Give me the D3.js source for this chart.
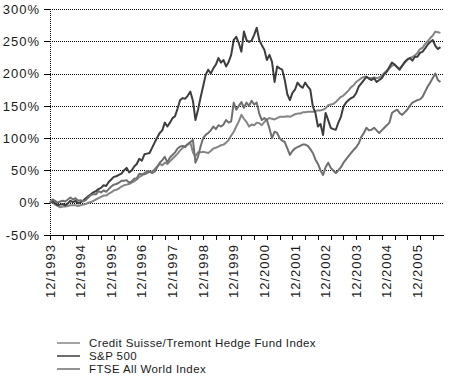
<!DOCTYPE html>
<html>
<head>
<meta charset="utf-8">
<script src="https://cdn.jsdelivr.net/npm/d3@7"></script>
<style>
  html, body { margin: 0; padding: 0; background: #fff; }
  svg { display: block; font-family: "Liberation Sans", Arial, sans-serif; }
  .axis-label { font-size: 13px; letter-spacing: 1px; fill: #1a1a1a; }
  .legend-label { font-size: 11.5px; letter-spacing: 0.4px; fill: #1a1a1a; }
</style>
</head>
<body>
<svg id="chart" width="450" height="384"></svg>
<script>
// monthly values, % change since 12/1993 (index 0 = 12/1993, last = 9/2006)
const xLabels = ["12/1993", "12/1994", "12/1995", "12/1996", "12/1997", "12/1998", "12/1999",
  "12/2000", "12/2001", "12/2002", "12/2003", "12/2004", "12/2005"];
const yTicks = [-50, 0, 50, 100, 150, 200, 250, 300];

const hedgeFund = [
  0, 1, -3, -5, -7, -6, -6, -5, -4, -4, -4, -5, -4,
  -3, -2, 0, 1, 3, 5, 7, 9, 11, 11, 14, 16,
  19, 20, 22, 25, 27, 28, 29, 31, 33, 36, 40, 42,
  46, 49, 48, 48, 52, 56, 60, 58, 62, 60, 64, 68,
  72, 76, 81, 85, 88, 90, 93, 78, 72, 78, 78, 79,
  78, 77, 80, 84, 85, 87, 89, 90, 93, 97, 104, 110,
  118, 126, 136, 130, 125, 118, 121, 120, 124, 123, 120, 125,
  129, 131, 130, 129, 131, 133, 133, 133, 134, 133, 135, 137,
  138, 138, 140, 140, 141, 141, 141, 142, 143, 143, 144, 146,
  151, 152, 153, 156, 160, 164, 166, 170, 174, 179, 182, 187,
  190, 193, 195, 195, 193, 193, 194, 193, 194, 197, 201, 205,
  208, 212, 214, 210, 208, 212, 217, 221, 224, 226, 228, 232,
  238, 240, 246, 250, 255, 259, 265, 264, 263
];

const sp500 = [
  0, 3, -1, -4, -3, -2, -4, -1, 3, 1, 3, -1, 1,
  3, 7, 10, 13, 16, 18, 21, 23, 27, 26, 32, 36,
  40, 41, 43, 45, 50, 54, 47, 50, 56, 60, 68, 65,
  75, 76, 77, 85, 93, 101, 108, 112, 124, 118, 124, 131,
  134, 146, 159, 162, 161, 166, 172, 158, 128, 144, 163, 180,
  198, 206, 200, 208, 214, 224, 217, 221, 211, 218, 229, 252,
  257, 247, 234, 265, 252, 249, 251, 260, 271, 252, 244, 237,
  221, 229, 218, 187, 211, 208, 206, 190, 168, 159, 170, 175,
  186, 181, 178, 186, 180, 175, 149, 139, 118, 122, 105, 139,
  128, 116, 114, 113, 124, 133, 149, 155, 159, 162, 164, 170,
  180, 185, 190, 195, 192, 190, 193, 187, 190, 193, 199, 203,
  210, 217, 214, 210, 206, 212, 218, 222, 224, 220, 226, 226,
  232, 234, 239, 245, 249, 252, 243, 238, 241
];

const ftseWorld = [
  0, 5, 3, 0, 2, 3, 2, 5, 8, 5, 7, 3, 4,
  2, 4, 8, 12, 13, 13, 18, 16, 19, 17, 21, 25,
  28, 29, 31, 34, 34, 35, 31, 33, 37, 38, 45, 44,
  44, 46, 48, 46, 48, 55, 62, 66, 71, 62, 70, 74,
  78, 84, 87, 88, 86, 91, 94, 97, 62, 71, 87, 100,
  105, 108, 112, 118, 114, 120, 118, 121, 128, 124, 126, 155,
  144, 150, 156, 147, 155, 150, 158, 152, 155, 138, 128, 131,
  128, 115, 100, 110, 108, 100, 96, 94, 84, 74, 80, 84,
  86, 88, 90, 90, 88, 83, 77, 67, 60, 50, 43, 55,
  62, 54, 50, 46, 50, 55, 62, 67, 72, 77, 82, 86,
  92, 102, 108, 116, 112, 113, 116, 112, 108, 112, 116, 120,
  124, 139, 142, 144, 139, 136, 140, 144, 150, 155, 157, 159,
  160, 164, 172, 180, 186, 193, 200, 190, 187
];

const seriesNames = ["Credit Suisse/Tremont Hedge Fund Index", "S&P 500", "FTSE All World Index"];
const seriesColors = ["#858585", "#3d3d3d", "#6f6f6f"];

(function () {
  const svg = d3.select("#chart");
  const plot = { left: 50, right: 443, top: 9, bottom: 235 };
  const nMonths = 154;

  const x = d3.scaleLinear().domain([0, nMonths]).range([plot.left, plot.right]);
  const y = d3.scaleLinear().domain([-50, 300]).range([plot.bottom, plot.top]);

  // dotted gridlines
  svg.append("g")
    .selectAll("line")
    .data(yTicks.filter((d) => d > -50))
    .join("line")
    .attr("x1", plot.left)
    .attr("x2", plot.right)
    .attr("y1", (d) => Math.round(y(d)) + 0.5)
    .attr("y2", (d) => Math.round(y(d)) + 0.5)
    .attr("stroke", "#000")
    .attr("stroke-dasharray", "1,1")
    .attr("shape-rendering", "crispEdges");

  // y axis (dotted spine)
  const yAxis = svg.append("g")
    .attr("transform", `translate(${plot.left},0)`)
    .call(d3.axisLeft(y).tickValues(yTicks).tickSize(6).tickSizeOuter(0).tickPadding(4)
      .tickFormat((d) => d + "%"));
  yAxis.select(".domain").attr("stroke-dasharray", "1,1").attr("shape-rendering", "crispEdges");
  yAxis.selectAll(".tick line").attr("shape-rendering", "crispEdges");
  yAxis.selectAll("text").attr("class", "axis-label").attr("font-size", null).attr("font-family", null);

  // x axis: tick every 5 months, label every 12
  const xAxis = svg.append("g")
    .attr("transform", `translate(0,${plot.bottom})`)
    .call(d3.axisBottom(x).tickValues(d3.range(0, 151, 5)).tickSize(5).tickSizeOuter(0).tickFormat(""));
  xAxis.selectAll("path, line").attr("shape-rendering", "crispEdges");

  svg.append("g")
    .selectAll("text")
    .data(xLabels)
    .join("text")
    .attr("class", "axis-label")
    .attr("transform", (d, i) => `translate(${x(i * 12)},244) rotate(-90)`)
    .attr("text-anchor", "end")
    .attr("dy", "0.35em")
    .text((d) => d);

  // series lines
  const line = d3.line()
    .x((d, i) => x(i))
    .y((d) => y(d));

  [hedgeFund, sp500, ftseWorld].forEach((values, k) => {
    svg.append("path")
      .datum(values)
      .attr("fill", "none")
      .attr("stroke", seriesColors[k])
      .attr("stroke-width", 2)
      .attr("stroke-linejoin", "round")
      .attr("d", line);
  });

  // legend
  const legend = svg.append("g")
    .selectAll("g")
    .data(seriesNames)
    .join("g")
    .attr("transform", (d, i) => `translate(0,${343 + i * 13})`);

  legend.append("line")
    .attr("x1", 57)
    .attr("x2", 80)
    .attr("stroke", (d, i) => seriesColors[i])
    .attr("stroke-width", 1.5);

  legend.append("text")
    .attr("class", "legend-label")
    .attr("x", 89)
    .attr("dy", "0.35em")
    .text((d) => d);
})();
</script>
</body>
</html>
